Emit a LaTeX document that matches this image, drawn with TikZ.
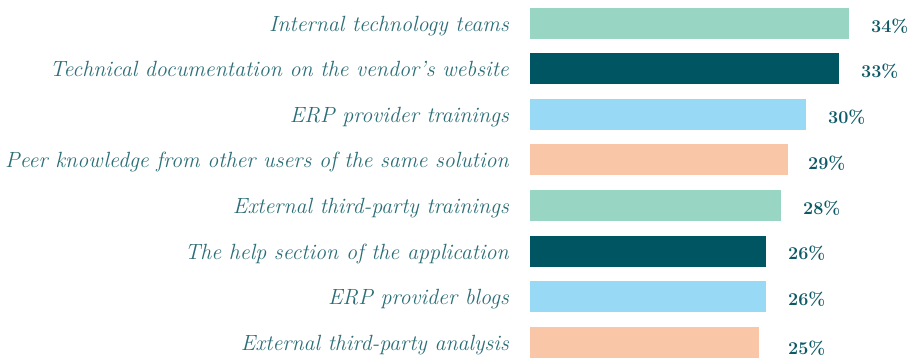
\documentclass[tikz,border=0pt]{standalone}
\definecolor{mint}{HTML}{98D5C2}
\definecolor{deepteal}{HTML}{005562}
\definecolor{skyblue}{HTML}{98D9F6}
\definecolor{peach}{HTML}{F9C6A8}
\definecolor{labelteal}{HTML}{2B6E77}
\definecolor{pctteal}{HTML}{0D5A66}
\begin{document}
\begin{tikzpicture}[x=1pt,y=1pt,
  cat/.style={anchor=base east,inner sep=0pt,text=labelteal,font=\fontsize{22}{22}\selectfont\itshape},
  pct/.style={anchor=base west,inner sep=0pt,text=pctteal,font=\fontsize{18}{18}\selectfont\bfseries}]
\useasboundingbox (0,0) rectangle (910,358);
\foreach \i/\txt/\e/\c/\top/\px/\pb/\v in {
  1/Internal technology teams/849/mint/8/871/32.3/34,
  2/Technical documentation on the vendor’s website/839/deepteal/53/861/77.7/33,
  3/ERP provider trainings/806/skyblue/99/828/123.3/30,
  4/Peer knowledge from other users of the same solution/788/peach/144/808/170/29,
  5/External third-party trainings/781/mint/190/803/215/28,
  6/The help section of the application/766/deepteal/236/788/259.3/26,
  7/ERP provider blogs/766/skyblue/281/788/306/26,
  8/External third-party analysis/759/peach/327/788/354.3/25}
{
  \fill[\c] (530,358-\top) rectangle (\e,358-\top-30.7);
  \node[cat] (lab\i) at (509,358-\top-30.7+7.3) {\txt};
  \node[pct] (val\i) at (\px,358-\pb) {\v\%};
}
\end{tikzpicture}
\end{document}
